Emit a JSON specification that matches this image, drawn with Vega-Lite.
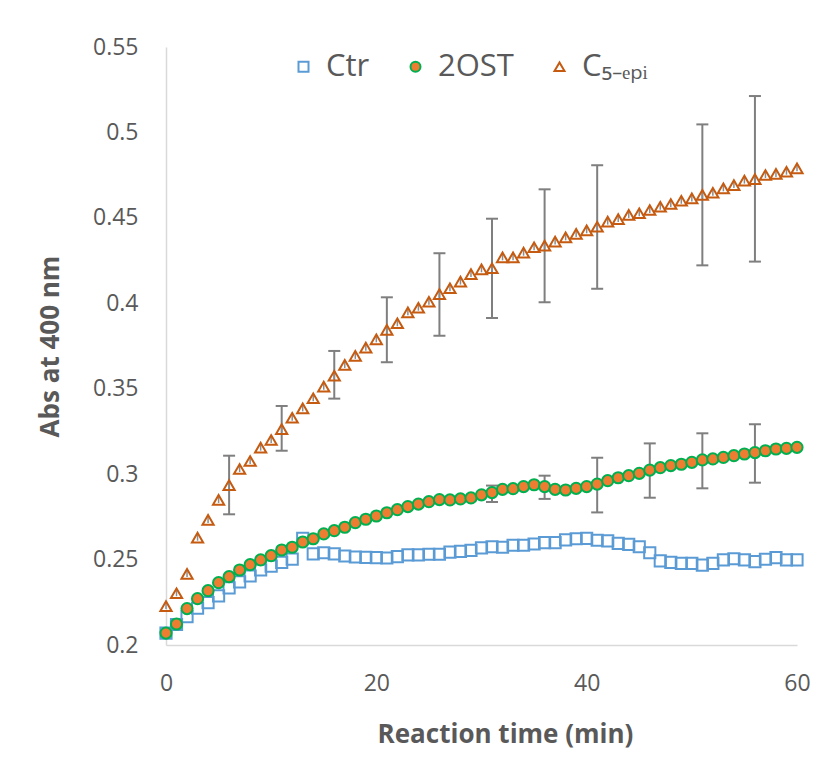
{
  "$schema": "https://vega.github.io/schema/vega-lite/v6.json",
  "autosize": {"type": "none"},
  "width": 631,
  "height": 598,
  "padding": {"left": 166, "top": 47, "right": 27, "bottom": 117},
  "background": "white",
  "config": {
    "view": {"stroke": null},
    "font": "Open Sans",
    "axis": {
      "grid": false,
      "ticks": false,
      "domainColor": "#d9d9d9",
      "domainWidth": 1.5,
      "labelColor": "#595959",
      "labelFontSize": 23,
      "labelFont": "Open Sans",
      "titleColor": "#595959",
      "titleFont": "Open Sans",
      "titleFontWeight": "bold",
      "titleFontSize": 26
    }
  },
  "datasets": {
    "series": [
      {"t":0,"s":"Ctr","v":0.207},{"t":1,"s":"Ctr","v":0.212},{"t":2,"s":"Ctr","v":0.2166},{"t":3,"s":"Ctr","v":0.2215},{"t":4,"s":"Ctr","v":0.2248},{"t":5,"s":"Ctr","v":0.2287},{"t":6,"s":"Ctr","v":0.2334},{"t":7,"s":"Ctr","v":0.2369},{"t":8,"s":"Ctr","v":0.2404},{"t":9,"s":"Ctr","v":0.2439},{"t":10,"s":"Ctr","v":0.2462},
      {"t":11,"s":"Ctr","v":0.2484},{"t":12,"s":"Ctr","v":0.2503},{"t":13,"s":"Ctr","v":0.2624},{"t":14,"s":"Ctr","v":0.2533},{"t":15,"s":"Ctr","v":0.254},{"t":16,"s":"Ctr","v":0.2533},{"t":17,"s":"Ctr","v":0.2521},{"t":18,"s":"Ctr","v":0.2515},{"t":19,"s":"Ctr","v":0.2513},{"t":20,"s":"Ctr","v":0.2511},
      {"t":21,"s":"Ctr","v":0.2509},{"t":22,"s":"Ctr","v":0.2517},{"t":23,"s":"Ctr","v":0.2527},{"t":24,"s":"Ctr","v":0.2527},{"t":25,"s":"Ctr","v":0.2531},{"t":26,"s":"Ctr","v":0.2531},{"t":27,"s":"Ctr","v":0.2544},{"t":28,"s":"Ctr","v":0.2548},{"t":29,"s":"Ctr","v":0.2554},{"t":30,"s":"Ctr","v":0.2568},
      {"t":31,"s":"Ctr","v":0.2575},{"t":32,"s":"Ctr","v":0.2572},{"t":33,"s":"Ctr","v":0.2584},{"t":34,"s":"Ctr","v":0.2584},{"t":35,"s":"Ctr","v":0.2591},{"t":36,"s":"Ctr","v":0.2599},{"t":37,"s":"Ctr","v":0.2599},{"t":38,"s":"Ctr","v":0.2615},{"t":39,"s":"Ctr","v":0.2622},{"t":40,"s":"Ctr","v":0.2624},
      {"t":41,"s":"Ctr","v":0.2613},{"t":42,"s":"Ctr","v":0.2609},{"t":43,"s":"Ctr","v":0.2595},{"t":44,"s":"Ctr","v":0.2589},{"t":45,"s":"Ctr","v":0.2575},{"t":46,"s":"Ctr","v":0.254},{"t":47,"s":"Ctr","v":0.2492},{"t":48,"s":"Ctr","v":0.2484},{"t":49,"s":"Ctr","v":0.2478},{"t":50,"s":"Ctr","v":0.2478},
      {"t":51,"s":"Ctr","v":0.2468},{"t":52,"s":"Ctr","v":0.2478},{"t":53,"s":"Ctr","v":0.2498},{"t":54,"s":"Ctr","v":0.2505},{"t":55,"s":"Ctr","v":0.2498},{"t":56,"s":"Ctr","v":0.2488},{"t":57,"s":"Ctr","v":0.2502},{"t":58,"s":"Ctr","v":0.2511},{"t":59,"s":"Ctr","v":0.2498},{"t":60,"s":"Ctr","v":0.2498},

      {"t":0,"s":"2OST","v":0.207},{"t":1,"s":"2OST","v":0.2123},{"t":2,"s":"2OST","v":0.2213},{"t":3,"s":"2OST","v":0.2271},{"t":4,"s":"2OST","v":0.2318},{"t":5,"s":"2OST","v":0.2365},{"t":6,"s":"2OST","v":0.24},{"t":7,"s":"2OST","v":0.2439},{"t":8,"s":"2OST","v":0.247},{"t":9,"s":"2OST","v":0.2498},{"t":10,"s":"2OST","v":0.2523},
      {"t":11,"s":"2OST","v":0.2556},{"t":12,"s":"2OST","v":0.2572},{"t":13,"s":"2OST","v":0.2603},{"t":14,"s":"2OST","v":0.2622},{"t":15,"s":"2OST","v":0.265},{"t":16,"s":"2OST","v":0.2669},{"t":17,"s":"2OST","v":0.2689},{"t":18,"s":"2OST","v":0.2716},{"t":19,"s":"2OST","v":0.2736},{"t":20,"s":"2OST","v":0.2755},
      {"t":21,"s":"2OST","v":0.2774},{"t":22,"s":"2OST","v":0.2792},{"t":23,"s":"2OST","v":0.281},{"t":24,"s":"2OST","v":0.2825},{"t":25,"s":"2OST","v":0.2839},{"t":26,"s":"2OST","v":0.2851},{"t":27,"s":"2OST","v":0.2849},{"t":28,"s":"2OST","v":0.2855},{"t":29,"s":"2OST","v":0.2861},{"t":30,"s":"2OST","v":0.2879},
      {"t":31,"s":"2OST","v":0.2892},{"t":32,"s":"2OST","v":0.2911},{"t":33,"s":"2OST","v":0.2915},{"t":34,"s":"2OST","v":0.2927},{"t":35,"s":"2OST","v":0.2938},{"t":36,"s":"2OST","v":0.2927},{"t":37,"s":"2OST","v":0.2911},{"t":38,"s":"2OST","v":0.2907},{"t":39,"s":"2OST","v":0.2917},{"t":40,"s":"2OST","v":0.2927},
      {"t":41,"s":"2OST","v":0.2942},{"t":42,"s":"2OST","v":0.2962},{"t":43,"s":"2OST","v":0.2979},{"t":44,"s":"2OST","v":0.2991},{"t":45,"s":"2OST","v":0.3005},{"t":46,"s":"2OST","v":0.3024},{"t":47,"s":"2OST","v":0.3038},{"t":48,"s":"2OST","v":0.305},{"t":49,"s":"2OST","v":0.3058},{"t":50,"s":"2OST","v":0.3069},
      {"t":51,"s":"2OST","v":0.3083},{"t":52,"s":"2OST","v":0.3089},{"t":53,"s":"2OST","v":0.3098},{"t":54,"s":"2OST","v":0.3108},{"t":55,"s":"2OST","v":0.3118},{"t":56,"s":"2OST","v":0.3126},{"t":57,"s":"2OST","v":0.3137},{"t":58,"s":"2OST","v":0.3147},{"t":59,"s":"2OST","v":0.3151},{"t":60,"s":"2OST","v":0.3157},

      {"t":0,"s":"C5-epi","v":0.2228},{"t":1,"s":"C5-epi","v":0.2303},{"t":2,"s":"C5-epi","v":0.2416},{"t":3,"s":"C5-epi","v":0.2628},{"t":4,"s":"C5-epi","v":0.2732},{"t":5,"s":"C5-epi","v":0.2849},{"t":6,"s":"C5-epi","v":0.2936},{"t":7,"s":"C5-epi","v":0.303},{"t":8,"s":"C5-epi","v":0.3077},{"t":9,"s":"C5-epi","v":0.3155},{"t":10,"s":"C5-epi","v":0.32},
      {"t":11,"s":"C5-epi","v":0.3264},{"t":12,"s":"C5-epi","v":0.333},{"t":13,"s":"C5-epi","v":0.3385},{"t":14,"s":"C5-epi","v":0.3444},{"t":15,"s":"C5-epi","v":0.3512},{"t":16,"s":"C5-epi","v":0.3576},{"t":17,"s":"C5-epi","v":0.3639},{"t":18,"s":"C5-epi","v":0.3692},{"t":19,"s":"C5-epi","v":0.374},{"t":20,"s":"C5-epi","v":0.3789},
      {"t":21,"s":"C5-epi","v":0.3844},{"t":22,"s":"C5-epi","v":0.3883},{"t":23,"s":"C5-epi","v":0.3947},{"t":24,"s":"C5-epi","v":0.3974},{"t":25,"s":"C5-epi","v":0.4009},{"t":26,"s":"C5-epi","v":0.4054},{"t":27,"s":"C5-epi","v":0.4088},{"t":28,"s":"C5-epi","v":0.4127},{"t":29,"s":"C5-epi","v":0.4171},{"t":30,"s":"C5-epi","v":0.4199},
      {"t":31,"s":"C5-epi","v":0.4205},{"t":32,"s":"C5-epi","v":0.4269},{"t":33,"s":"C5-epi","v":0.4269},{"t":34,"s":"C5-epi","v":0.4296},{"t":35,"s":"C5-epi","v":0.4328},{"t":36,"s":"C5-epi","v":0.4337},{"t":37,"s":"C5-epi","v":0.4361},{"t":38,"s":"C5-epi","v":0.4386},{"t":39,"s":"C5-epi","v":0.4406},{"t":40,"s":"C5-epi","v":0.4427},
      {"t":41,"s":"C5-epi","v":0.4448},{"t":42,"s":"C5-epi","v":0.4478},{"t":43,"s":"C5-epi","v":0.4493},{"t":44,"s":"C5-epi","v":0.4517},{"t":45,"s":"C5-epi","v":0.4527},{"t":46,"s":"C5-epi","v":0.4546},{"t":47,"s":"C5-epi","v":0.4565},{"t":48,"s":"C5-epi","v":0.4581},{"t":49,"s":"C5-epi","v":0.46},{"t":50,"s":"C5-epi","v":0.4614},
      {"t":51,"s":"C5-epi","v":0.4634},{"t":52,"s":"C5-epi","v":0.4647},{"t":53,"s":"C5-epi","v":0.4673},{"t":54,"s":"C5-epi","v":0.4692},{"t":55,"s":"C5-epi","v":0.4718},{"t":56,"s":"C5-epi","v":0.4727},{"t":57,"s":"C5-epi","v":0.4751},{"t":58,"s":"C5-epi","v":0.4757},{"t":59,"s":"C5-epi","v":0.477},{"t":60,"s":"C5-epi","v":0.479}
    ],
    "errors": [
      {"t":31,"s":"2OST","lo":0.2837,"hi":0.2933},
      {"t":36,"s":"2OST","lo":0.2855,"hi":0.2991},
      {"t":41,"s":"2OST","lo":0.2776,"hi":0.3096},
      {"t":46,"s":"2OST","lo":0.2862,"hi":0.318},
      {"t":51,"s":"2OST","lo":0.2917,"hi":0.3239},
      {"t":56,"s":"2OST","lo":0.295,"hi":0.3292},
      {"t":6,"s":"C5-epi","lo":0.2765,"hi":0.3108},
      {"t":11,"s":"C5-epi","lo":0.3137,"hi":0.3399},
      {"t":16,"s":"C5-epi","lo":0.3442,"hi":0.3721},
      {"t":21,"s":"C5-epi","lo":0.3655,"hi":0.4035},
      {"t":26,"s":"C5-epi","lo":0.381,"hi":0.4293},
      {"t":31,"s":"C5-epi","lo":0.3914,"hi":0.4495},
      {"t":36,"s":"C5-epi","lo":0.4006,"hi":0.4667},
      {"t":41,"s":"C5-epi","lo":0.4085,"hi":0.4808},
      {"t":51,"s":"C5-epi","lo":0.4222,"hi":0.5047},
      {"t":56,"s":"C5-epi","lo":0.4244,"hi":0.5213}
    ]
  },
  "encoding": {
    "x": {
      "field": "t",
      "type": "quantitative",
      "scale": {"domain": [0, 60], "nice": false},
      "title": "Reaction time (min)",
      "axis": {"values": [0, 20, 40, 60], "labelFlush": false, "labelPadding": 27, "titlePadding": 26, "titleX": 339}
    }
  },
  "layer": [
    {
      "data": {"name": "errors"},
      "mark": {"type": "rule", "color": "#7f7f7f", "strokeWidth": 2},
      "encoding": {
        "y": {"field": "lo", "type": "quantitative", "title": "Abs at 400 nm"},
        "y2": {"field": "hi"}
      }
    },
    {
      "data": {"name": "errors"},
      "mark": {"type": "tick", "orient": "horizontal", "color": "#7f7f7f", "size": 12, "thickness": 2, "opacity": 1},
      "encoding": {
        "y": {"field": "lo", "type": "quantitative", "title": "Abs at 400 nm"}
      }
    },
    {
      "data": {"name": "errors"},
      "mark": {"type": "tick", "orient": "horizontal", "color": "#7f7f7f", "size": 12, "thickness": 2, "opacity": 1},
      "encoding": {
        "y": {"field": "hi", "type": "quantitative", "title": "Abs at 400 nm"}
      }
    },
    {
      "data": {"name": "series"},
      "transform": [{"filter": "datum.s === 'C5-epi'"}],
      "mark": {"type": "tick", "orient": "vertical", "color": "#8c8c8c", "size": 6, "thickness": 1.5, "opacity": 1},
      "encoding": {
        "y": {"field": "v", "type": "quantitative", "title": "Abs at 400 nm"}
      }
    },
    {
      "data": {"name": "series"},
      "mark": {"type": "point", "size": 125, "strokeWidth": 2, "opacity": 1},
      "encoding": {
        "y": {
          "field": "v",
          "type": "quantitative",
          "title": "Abs at 400 nm",
          "scale": {"domain": [0.2, 0.55], "nice": false, "zero": false},
          "axis": {"values": [0.2, 0.25, 0.3, 0.35, 0.4, 0.45, 0.5, 0.55], "format": ".2~f", "labelPadding": 28, "titlePadding": 29}
        },
        "shape": {
          "field": "s",
          "type": "nominal",
          "scale": {"domain": ["Ctr", "2OST", "C5-epi"], "range": ["square", "circle", "triangle-up"]},
          "legend": {
            "title": null,
            "orient": "none",
            "legendX": 122,
            "legendY": 4,
            "direction": "horizontal",
            "padding": 0,
            "symbolSize": 100,
            "symbolStrokeWidth": 2,
            "labelFont": "Open Sans",
            "labelFontSize": 31,
            "labelColor": "#595959",
            "labelOffset": 7,
            "columnPadding": 30,
            "labelLimit": 300,
            "labelExpr": "datum.value === 'C5-epi' ? '\u2002C₅₋ₑₚᵢ' : datum.label"
          }
        },
        "stroke": {
          "field": "s",
          "type": "nominal",
          "scale": {"domain": ["Ctr", "2OST", "C5-epi"], "range": ["#5B9BD5", "#00B050", "#C55A11"]}
        },
        "fill": {
          "field": "s",
          "type": "nominal",
          "scale": {"domain": ["Ctr", "2OST", "C5-epi"], "range": ["transparent", "#ED7D31", "transparent"]}
        }
      }
    }
  ]
}
